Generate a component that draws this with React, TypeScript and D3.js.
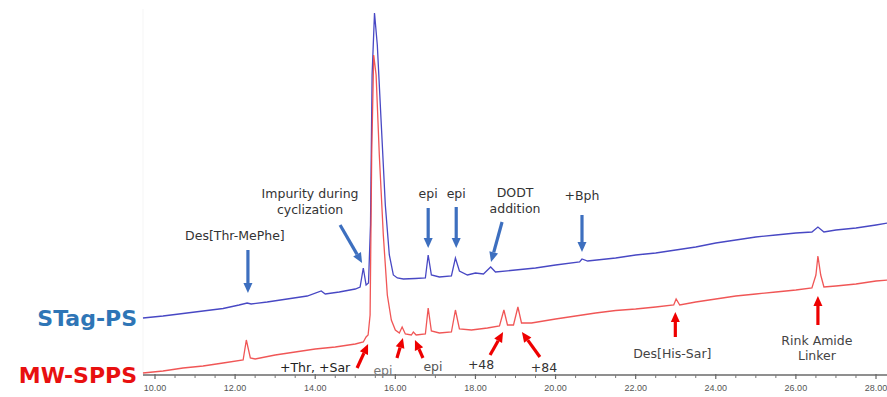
import * as React from "react";
import * as d3 from "d3";

// retention time (min) and detector signal for each trace
const stagTime = [
  9.7, 10.2, 10.7, 11.2, 11.7, 12.1, 12.3, 12.4, 12.8, 13.3, 13.8, 14.15, 14.25, 14.6, 15.0, 15.12,
  15.2, 15.27, 15.33, 15.38, 15.42, 15.48, 15.55, 15.65, 15.75, 15.85, 15.95, 16.05, 16.2, 16.5,
  16.75, 16.82, 16.9, 17.1, 17.4, 17.5, 17.6, 17.8, 18.0, 18.2, 18.38, 18.5, 19.0, 19.5, 20.0,
  20.6, 20.66, 20.8, 21.5, 22.0, 22.5, 23.0, 23.5, 24.0, 24.5, 25.0, 25.5, 26.0, 26.4, 26.55,
  26.7, 27.0, 27.5, 28.0, 28.3,
];
const stagSignal = [
  57, 59, 61.5, 64, 66.5, 70, 72, 71, 73, 76, 79, 84, 81, 83, 86, 88,
  107, 90, 92, 150, 300, 362, 330, 250, 170, 120, 100, 97, 96, 96.5,
  97, 120, 100, 98, 99, 117, 104, 100, 102, 101, 108, 103, 105, 107, 110,
  113, 116, 114, 117, 120, 122, 125, 128, 132, 135, 138, 140, 142, 143, 148,
  143, 145, 147, 150, 152,
];

const mwTime = [
  9.7, 10.2, 10.7, 11.2, 11.7, 12.2, 12.28, 12.38, 12.5, 13.0, 13.5, 14.0, 14.5, 15.0, 15.2,
  15.27, 15.32, 15.37, 15.41, 15.46, 15.52, 15.6, 15.7, 15.8, 15.9, 16.0, 16.1, 16.17, 16.25,
  16.4, 16.45, 16.52, 16.75, 16.82, 16.9, 17.1, 17.4, 17.5, 17.6, 17.9, 18.3, 18.6, 18.71, 18.8,
  18.95, 19.06, 19.15, 19.4, 20.0, 20.5, 21.0, 21.5, 22.0, 22.5, 22.95, 23.01, 23.1, 23.5, 24.0,
  24.5, 25.0, 25.5, 26.0, 26.4, 26.5, 26.55, 26.62, 26.7, 27.0, 27.5, 28.0, 28.3,
];
const mwSignal = [
  2, 4, 7, 9, 12, 15, 35, 17, 16, 20, 23, 26, 28, 31, 33,
  38, 40, 60, 220, 320, 300, 220, 140, 80, 55, 45, 42, 48, 41,
  40, 43, 40, 41, 67, 44, 42, 43, 65, 46, 45, 47, 49, 65, 50,
  50, 68, 52, 52, 56, 59, 62, 64.5, 66, 68, 70, 76, 70, 73, 76,
  79, 81, 83, 85, 87, 100, 119, 100, 88, 89, 91, 94, 95,
];

const tickValues = [10, 12, 14, 16, 18, 20, 22, 24, 26, 28];
const tickLabels = ["10.00", "12.00", "14.00", "16.00", "18.00", "20.00", "22.00", "24.00", "26.00", "28.00"];

// annotations: label lines, arrow tip (time, signal)
const stagNotes = [
  { lines: ["Des[Thr-MePhe]"], t: 12.32, v: 82 },
  { lines: ["Impurity during", "cyclization"], t: 15.17, v: 112 },
  { lines: ["epi"], t: 16.82, v: 127 },
  { lines: ["epi"], t: 17.52, v: 127 },
  { lines: ["DODT", "addition"], t: 18.39, v: 113 },
  { lines: ["+Bph"], t: 20.66, v: 123 },
];
const mwNotes = [
  { lines: ["+Thr, +Sar"], t: 15.32, v: 31 },
  { lines: ["epi"], t: 16.19, v: 37 },
  { lines: ["epi"], t: 16.49, v: 35 },
  { lines: ["+48"], t: 18.69, v: 43 },
  { lines: ["+84"], t: 19.16, v: 43 },
  { lines: ["Des[His-Sar]"], t: 22.99, v: 63 },
  { lines: ["Rink Amide", "Linker"], t: 26.55, v: 79 },
];

// layout offsets in px: arrow tail relative to tip, label centre relative to tip
const stagLayout = [
  { tail: [0, -43], text: [-13, -58] },
  { tail: [-22, -38], text: [-52, -70] },
  { tail: [0, -40], text: [0, -55] },
  { tail: [0, -41], text: [0, -55] },
  { tail: [11, -40], text: [24, -70] },
  { tail: [0, -37], text: [0, -57] },
];
const mwLayout = [
  { tail: [-11, 24], text: [-53, 23], color: "#222" },
  { tail: [-6, 20], text: [-20, 32], color: "#777" },
  { tail: [8, 18], text: [18, 26], color: "#555" },
  { tail: [-13, 23], text: [-22, 32], color: "#333" },
  { tail: [18, 25], text: [22, 35], color: "#333" },
  { tail: [0, 25], text: [-3, 41], color: "#444" },
  { tail: [0, 29], text: [-1, 44], color: "#444" },
];

const W = 887;
const H = 397;
const axisY = 375;

const Arrow: React.FC<{ x1: number; y1: number; x2: number; y2: number; color: string }> = ({ x1, y1, x2, y2, color }) => {
  const ang = Math.atan2(y2 - y1, x2 - x1);
  const len = 10;
  const half = 4.5;
  const bx = x2 - len * Math.cos(ang);
  const by = y2 - len * Math.sin(ang);
  const px = -Math.sin(ang) * half;
  const py = Math.cos(ang) * half;
  return (
    <g>
      <line x1={x1} y1={y1} x2={bx} y2={by} stroke={color} strokeWidth={3.2} />
      <polygon points={`${x2},${y2} ${bx + px},${by + py} ${bx - px},${by - py}`} fill={color} />
    </g>
  );
};

export default function App() {
  const x = d3.scaleLinear().domain([10, 28]).range([155, 876]);
  const y = d3.scaleLinear().domain([0, 360]).range([axisY, 15]);

  // trace path from parallel time / signal arrays
  const pathFor = (ts: number[], vs: number[]) =>
    d3
      .line<number>()
      .x((d) => x(d))
      .y((_, i) => y(vs[i]))(ts) || undefined;

  const minor = d3.range(10, 28.01, 0.5).filter((t) => t % 2 !== 0);
  const noteFont = "'DejaVu Sans', Verdana, sans-serif";

  return (
    <svg width={W} height={H} style={{ position: "absolute", left: 0, top: 0, background: "#fff" }}>
      <line x1={143} x2={143} y1={9} y2={axisY} stroke="#f5f5f5" />

      {/* traces */}
      <path d={pathFor(stagTime, stagSignal)} fill="none" stroke="#4848c4" strokeWidth={1.3} />
      <path d={pathFor(mwTime, mwSignal)} fill="none" stroke="#ee4444" strokeWidth={1.3} strokeOpacity={0.9} />

      {/* x axis */}
      <line x1={143} x2={W} y1={axisY} y2={axisY} stroke="#6a6a6a" strokeWidth={1.5} />
      {tickValues.map((t, i) => (
        <g key={t}>
          <line x1={x(t)} x2={x(t)} y1={axisY - 1} y2={axisY + 4} stroke="#666" strokeWidth={1.2} />
          <text
            x={x(t)}
            y={axisY + 13}
            textAnchor="middle"
            dominantBaseline="central"
            fontFamily="'Liberation Sans', Arial, sans-serif"
            fontSize={9}
            fill="#555"
          >
            {tickLabels[i]}
          </text>
        </g>
      ))}
      {minor.map((t) => (
        <line key={t} x1={x(t)} x2={x(t)} y1={axisY} y2={axisY + 3} stroke="#777" strokeWidth={1} />
      ))}

      {/* blue annotations */}
      {stagNotes.map((n, i) => {
        const tx = x(n.t);
        const ty = y(n.v);
        const l = stagLayout[i];
        return (
          <g key={"s" + i}>
            <Arrow x1={tx + l.tail[0]} y1={ty + l.tail[1]} x2={tx} y2={ty} color="#3d6fbf" />
            {n.lines.map((s, j) => (
              <text
                key={j}
                x={tx + l.text[0]}
                y={ty + l.text[1] + j * 16}
                textAnchor="middle"
                dominantBaseline="central"
                fontFamily={noteFont}
                fontSize={12.5}
                fill="#333"
              >
                {s}
              </text>
            ))}
          </g>
        );
      })}

      {/* red annotations */}
      {mwNotes.map((n, i) => {
        const tx = x(n.t);
        const ty = y(n.v);
        const l = mwLayout[i];
        return (
          <g key={"m" + i}>
            <Arrow x1={tx + l.tail[0]} y1={ty + l.tail[1]} x2={tx} y2={ty} color="#ee0000" />
            {n.lines.map((s, j) => (
              <text
                key={j}
                x={tx + l.text[0]}
                y={ty + l.text[1] + j * 15}
                textAnchor="middle"
                dominantBaseline="central"
                fontFamily={noteFont}
                fontSize={12.5}
                fill={l.color}
              >
                {s}
              </text>
            ))}
          </g>
        );
      })}

      {/* series labels */}
      <text
        x={137}
        y={y(stagSignal[0])}
        textAnchor="end"
        dominantBaseline="central"
        fontFamily={noteFont}
        fontWeight="bold"
        fontSize={22}
        fill="#2e75b6"
      >
        STag-PS
      </text>
      <text
        x={137}
        y={y(mwSignal[0]) + 2}
        textAnchor="end"
        dominantBaseline="central"
        fontFamily={noteFont}
        fontWeight="bold"
        fontSize={22}
        fill="#e81010"
      >
        MW-SPPS
      </text>
    </svg>
  );
}
